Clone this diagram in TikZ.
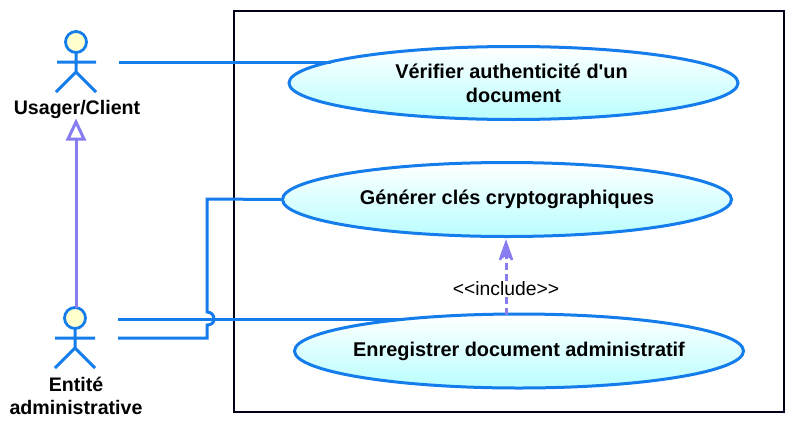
\documentclass[tikz,border=0pt]{standalone}
\usepackage{fontspec}
\setmainfont{Liberation Sans}
\usetikzlibrary{shapes.geometric,arrows.meta}
\definecolor{ub}{RGB}{20,125,235}
\definecolor{up}{RGB}{135,125,240}
\definecolor{uc}{RGB}{185,254,255}
\definecolor{hd}{RGB}{255,255,205}
\tikzset{
 x=1pt,y=-1pt,
 lnk/.style={draw=ub,line width=3pt,line join=miter},
 usecase/.style={ellipse,draw=ub,line width=3pt,minimum width=449pt,minimum height=73pt,inner sep=0pt,inner xsep=-30pt,
   shade,shading angle=40,top color=white,bottom color=uc,align=center,font=\fontsize{19.9}{24}\selectfont\bfseries},
 head/.style={circle,draw=ub,line width=2.8pt,minimum size=21pt,inner sep=0pt,fill=hd},
 actorlabel/.style={align=center,font=\fontsize{19.6}{23}\selectfont\bfseries},
 incl/.style={draw=up,line width=3pt,dash pattern=on 7pt off 4pt},
 gen/.style={draw=up,line width=3pt},
}
\begin{document}
\begin{tikzpicture}
\useasboundingbox (0,0) rectangle (794,426);
\node[draw=black!90!blue,line width=2pt,minimum width=550pt,minimum height=401pt,inner sep=0pt] (sys) at (509,211) {};
% actor 1
\draw[lnk] (76,52) -- (76,72) (57,62) -- (96,62) (56,92) -- (76,72) -- (96,92);
\node[head] (h1) at (76,42) {};
\node[actorlabel] (a1) at (77,109) {Usager/Client};
% actor 2
\draw[lnk] (75,328) -- (75,348) (55,338) -- (95,338) (55,368) -- (75,348) -- (95,368);
\node[head] (h2) at (75,318) {};
\node[actorlabel] (a2) at (76,396) {Entité\\administrative};
% use cases
\node[usecase] (u1) at (513.5,83) {Vérifier authenticité d\textquotesingle un\hspace*{4pt}\\document};
\node[usecase,minimum height=74pt] (u2) at (507,199.5) {\raisebox{-1pt}{Générer clés cryptographiques}};
\node[usecase,minimum height=74pt] (u3) at (519,351) {\raisebox{-1.5pt}{Enregistrer document administratif}};
% connectors
\coordinate (c1) at (119,62);
\coordinate (c2) at (118,319);
\coordinate (c3) at (118,338);
\coordinate (e3) at (403,319);
\draw[lnk] (c1) -- (u1.173.5 |- c1);
\draw[lnk] (c2) -- (e3);
\draw[lnk] (c3) -- (207,338) -- (207,325) .. controls (211,325) and (214,323) .. (214,319) .. controls (214,315) and (211,312) .. (207,312) -- (207,199) -- (u2.west);
% generalisation
\coordinate (g0) at (76,308);
\draw[gen] (g0) -- (76,139);
\draw[gen,fill=white] (76,122) -- (84,139) -- (68,139) -- cycle;
% include
\node[font=\fontsize{19.3}{20}\selectfont,fill=white,inner sep=1pt] (inc) at (506,289) {<{}<include>{}>};
\coordinate (i0) at (506,315);
\coordinate (i1) at (506,252);
\draw[incl] (i0) -- (inc.south);
\draw[incl] (inc.north) -- (i1);
\draw[draw=up,line width=2.6pt,line join=miter] (500,260) -- (506,243) -- (512,260);
\fill[up] (506,243) -- (512,260) -- (506,256) -- (500,260) -- cycle;
\end{tikzpicture}
\end{document}
